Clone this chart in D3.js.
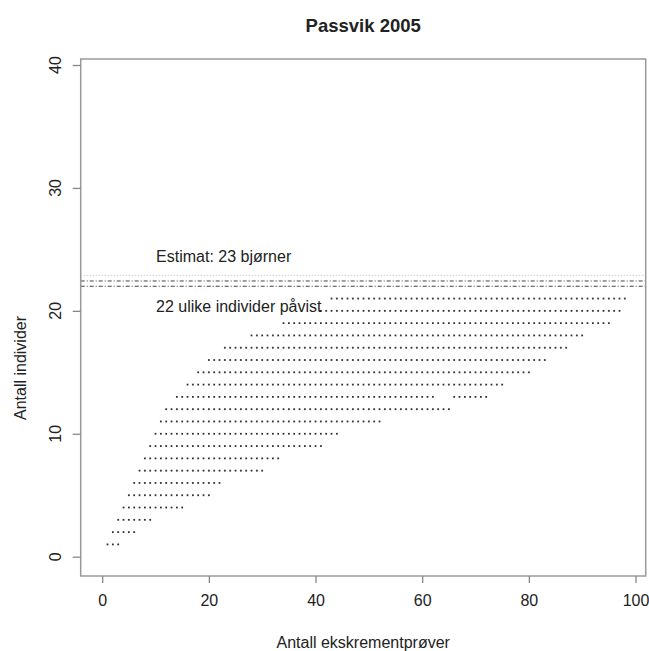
<!DOCTYPE html>
<html>
<head>
<meta charset="utf-8">
<script src="https://cdn.jsdelivr.net/npm/d3@7"></script>
<style>
  body { margin: 0; background: #fff; }
  text { font-family: "Liberation Sans", Arial, sans-serif; fill: #222; }
</style>
</head>
<body>
<div class="svg-container"></div>
<script>
// rows of observed (samples, individuals): y level, first x, last x
const rowLevels = [1, 2, 3, 4, 5, 6, 7, 8, 9, 10, 11, 12, 13, 13, 14, 15, 16, 17, 18, 19, 20, 21];
const rowStart  = [1, 2, 3, 4, 5, 6, 7, 8, 9, 10, 11, 12, 14, 66, 16, 18, 20, 23, 28, 34, 41, 43];
const rowEnd    = [3, 6, 9, 15, 20, 22, 30, 33, 41, 44, 52, 65, 62, 72, 75, 80, 83, 87, 90, 95, 97, 98];

// horizontal reference lines
const refLevels = [22.0, 22.43, 22.89];

const xTicks = [0, 20, 40, 60, 80, 100];
const yTicks = [0, 10, 20, 30, 40];

const titleText = "Passvik 2005";
const xLabel = "Antall ekskrementprøver";
const yLabel = "Antall individer";
const estimateLabel = "Estimat: 23 bjørner";
const foundLabel = "22 ulike individer påvist";

const width = 649, height = 651;
const box = {left: 80.7, right: 645.7, top: 59, bottom: 576};

const svg = d3.select(".svg-container").append("svg")
  .attr("width", width)
  .attr("height", height);

const xScale = d3.scaleLinear().domain([0, 100]).range([102.2, 635.5]);
const yScale = d3.scaleLinear().domain([0, 40]).range([556.7, 65]);

// points: one per whole sample count in each run
const points = [];
rowLevels.forEach((lvl, i) => {
  for (const x of d3.range(rowStart[i], rowEnd[i] + 1)) points.push({x: x, y: lvl});
});

svg.append("g")
  .selectAll("rect")
  .data(points)
  .join("rect")
    .attr("x", d => xScale(d.x) - 0.9)
    .attr("y", d => yScale(d.y) - 0.9)
    .attr("width", 1.8)
    .attr("height", 1.8)
    .attr("fill", "#333");

// reference lines across the whole box
svg.append("g")
  .selectAll("line")
  .data(refLevels)
  .join("line")
    .attr("x1", box.left)
    .attr("x2", box.right)
    .attr("y1", d => yScale(d))
    .attr("y2", d => yScale(d))
    .attr("stroke", (d, i) => i === 2 ? "#bbb" : "#444")
    .attr("stroke-width", 1)
    .attr("stroke-dasharray", (d, i) => i === 2 ? "1,2" : "4,2,1,2");

// box
svg.append("rect")
  .attr("x", box.left)
  .attr("y", box.top)
  .attr("width", box.right - box.left)
  .attr("height", box.bottom - box.top)
  .attr("fill", "none")
  .attr("stroke", "#999")
  .attr("stroke-width", 1.5);

// x axis
const xAxis = d3.axisBottom(xScale).tickValues(xTicks).tickSize(7).tickPadding(12).tickSizeOuter(0);
const gx = svg.append("g")
  .attr("transform", `translate(0,${box.bottom})`)
  .call(xAxis);
gx.select(".domain").remove();
gx.selectAll("line").attr("stroke", "#888").attr("stroke-width", 1.3);
gx.selectAll("text").attr("font-size", 16).style("font-family", "Liberation Sans, Arial, sans-serif").attr("fill", "#222");

// y axis, labels parallel to axis
const yAxis = d3.axisLeft(yScale).tickValues(yTicks).tickSize(8).tickFormat("");
const gy = svg.append("g")
  .attr("transform", `translate(${box.left},0)`)
  .call(yAxis);
gy.select(".domain").remove();
gy.selectAll("line").attr("stroke", "#888").attr("stroke-width", 1.3);

svg.append("g")
  .selectAll("text")
  .data(yTicks)
  .join("text")
    .attr("transform", d => `translate(55,${yScale(d)}) rotate(-90)`)
    .attr("text-anchor", "middle")
    .attr("dominant-baseline", "central")
    .attr("font-size", 16)
    .text(d => d);

// titles
svg.append("text")
  .attr("x", (box.left + box.right) / 2)
  .attr("y", 32)
  .attr("text-anchor", "middle")
  .attr("font-size", 18.5)
  .attr("font-weight", "bold")
  .text(titleText);

svg.append("text")
  .attr("x", (box.left + box.right) / 2)
  .attr("y", 648)
  .attr("text-anchor", "middle")
  .attr("font-size", 16)
  .text(xLabel);

svg.append("text")
  .attr("transform", `translate(20,368) rotate(-90)`)
  .attr("text-anchor", "middle")
  .attr("dominant-baseline", "central")
  .attr("font-size", 16)
  .text(yLabel);

// annotations
svg.append("text")
  .attr("x", xScale(10.1))
  .attr("y", yScale(24.4))
  .attr("dominant-baseline", "central")
  .attr("font-size", 16)
  .text(estimateLabel);

svg.append("text")
  .attr("x", xScale(10.1))
  .attr("y", yScale(20.35))
  .attr("dominant-baseline", "central")
  .attr("font-size", 16)
  .text(foundLabel);
</script>
</body>
</html>
